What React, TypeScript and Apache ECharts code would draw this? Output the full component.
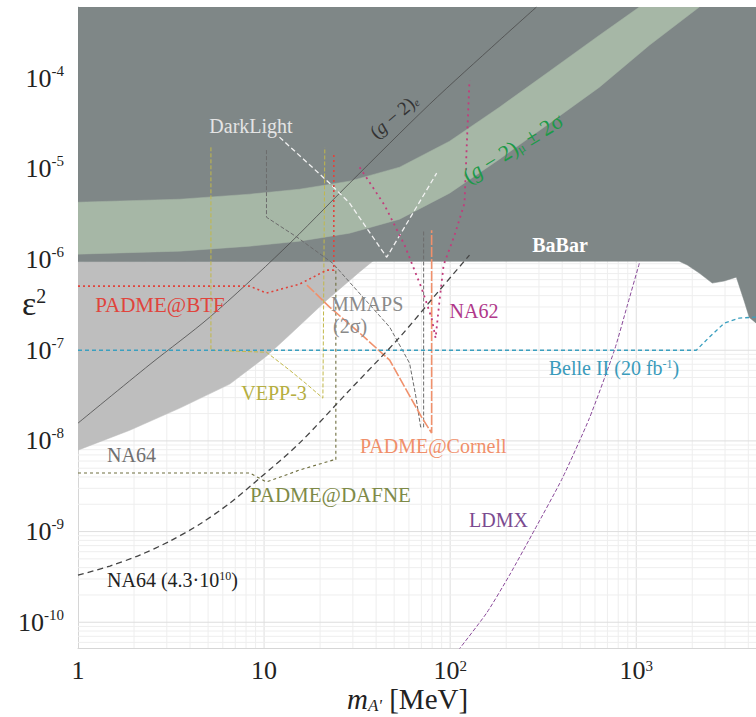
import React, { useEffect, useRef } from 'react';
import * as echarts from 'echarts';

const SERIF = '"Liberation Serif", "Times New Roman", Times, serif';

// Axis ranges
const X_MIN = 1;
const X_MAX = 4400;
const Y_MIN = 5.2e-11;
const Y_MAX = 6.1e-4;

// Tick labels
const xTickValues = [1, 10, 100, 1000];
const xTickLabels = ['{b|1}', '{b|10}', '{b|10}{s|2}', '{b|10}{s|3}'];
const yTickValues = [1e-10, 1e-9, 1e-8, 1e-7, 1e-6, 1e-5, 1e-4];
const yTickLabels = ['{b|10}{s|-10}', '{b|10}{s|-9}', '{b|10}{s|-8}', '{b|10}{s|-7}', '{b|10}{s|-6}', '{b|10}{s|-5}', '{b|10}{s|-4}'];

// BaBar (+ others) excluded region: lower boundary
const babarMass = [1, 1700, 1880, 2180, 2560, 2970, 3450, 3800, 4050, 4400];
const babarEps2 = [9.5e-7, 9.6e-7, 8.7e-7, 7.1e-7, 5.5e-7, 5.8e-7, 6.4e-7, 3.5e-7, 2.3e-7, 2.0e-7];

// NA64 excluded region: lower boundary
const na64ExclMass = [1, 1.9, 3.53, 6.54, 10.3, 13.7, 21.7, 32.6, 37.9, 45];
const na64ExclEps2 = [7.9e-9, 1.31e-8, 2.3e-8, 4.23e-8, 8.6e-8, 1.47e-7, 3.56e-7, 7.3e-7, 9.4e-7, 1.2e-6];

// (g-2)_mu +- 2 sigma band
const gm2MuUpperMass = [1, 3.53, 8.38, 15.5, 28.8, 53.5, 99.3, 184, 342, 634, 1039];
const gm2MuUpperEps2 = [4.29e-6, 4.63e-6, 5.26e-6, 5.97e-6, 7.32e-6, 1.044e-5, 2.02e-5, 4.79e-5, 1.195e-4, 2.98e-4, 6.1e-4];
const gm2MuLowerMass = [1, 3.53, 8.38, 15.5, 28.8, 53.5, 99.3, 184, 342, 634, 1176, 2182];
const gm2MuLowerEps2 = [1.147e-6, 1.238e-6, 1.405e-6, 1.595e-6, 1.954e-6, 2.79e-6, 5.4e-6, 1.28e-5, 3.19e-5, 7.96e-5, 2.31e-4, 6.1e-4];

// (g-2)_e line
const gm2eMass = [1, 2.44, 5.11, 12.6, 28.8, 77.5, 184, 291];
const gm2eEps2 = [1.57e-8, 7.0e-8, 2.32e-7, 1.27e-6, 6.95e-6, 5.16e-5, 2.62e-4, 6.1e-4];

// DarkLight
const darkLightMass = [12.1, 22.5, 28.8, 45.6, 84.6];
const darkLightEps2 = [2.24e-5, 6.95e-6, 4.19e-6, 1.06e-6, 8.97e-6];

// PADME@BTF
const btfMass = [1, 8.38, 10.3, 15.5, 21.7, 23.7, 23.7];
const btfEps2 = [5.09e-7, 5.09e-7, 4.27e-7, 5.36e-7, 7.64e-7, 7.64e-7, 1.49e-5];

// VEPP-3
const veppMass = [5.18, 5.18, 10.3, 13.7, 17.0, 20.7, 21.2];
const veppEps2 = [1.73e-5, 1.0e-7, 9.5e-8, 6.04e-8, 4.2e-8, 2.96e-8, 1.73e-5];

// PADME@DAFNE
const dafneMass = [1, 8.38, 10.3, 15.5, 23.4, 24.3, 24.3];
const dafneEps2 = [4.42e-9, 4.42e-9, 3.52e-9, 4.77e-9, 6.14e-9, 6.14e-9, 8.24e-7];

// MMAPS (2 sigma)
const mmapsMass = [10.3, 10.3, 15.0, 23.4, 28.8, 47.3, 60.5, 65.2, 69.4, 72.0, 72.0];
const mmapsEps2 = [1.61e-5, 2.93e-6, 1.77e-6, 9.1e-7, 5.63e-7, 1.8e-7, 7.2e-8, 3.2e-8, 1.42e-8, 1.42e-8, 2.11e-6];

// PADME@Cornell
const cornellMass = [17.0, 22.5, 32.6, 47.3, 70.2, 79.5, 79.5];
const cornellEps2 = [5.23e-7, 2.99e-7, 1.55e-7, 7.78e-8, 1.83e-8, 1.22e-8, 2.11e-6];

// NA62
const na62Mass = [32.6, 44.4, 56.9, 70.2, 79.5, 83.5, 87.7, 92.2, 105.6, 119.4, 122.5, 127];
const na62Eps2 = [1.04e-5, 3.98e-6, 1.44e-6, 4.84e-7, 2.26e-7, 1.36e-7, 3.56e-7, 8.7e-7, 1.86e-6, 4.19e-6, 1.61e-5, 9.5e-5];

// Belle II (20 fb^-1)
const belleMass = [1, 2102, 2467, 2970, 3575, 4400];
const belleEps2 = [1.0e-7, 1.0e-7, 1.39e-7, 1.99e-7, 2.26e-7, 2.32e-7];

// LDMX
const ldmxMass = [105.6, 156.8, 208.4, 283.8, 401, 560, 763, 896, 1039];
const ldmxEps2 = [4.35e-11, 1.26e-10, 3.31e-10, 1.04e-9, 3.89e-9, 1.78e-8, 1.0e-7, 3.14e-7, 9.1e-7];

// NA64 (4.3e10 EOT)
const na64ProjMass = [1, 1.485, 2.15, 3.12, 4.52, 6.54, 9.48, 15.5, 28.8, 53.5, 87.7, 127];
const na64ProjEps2 = [3.31e-10, 4.17e-10, 5.51e-10, 7.86e-10, 1.21e-9, 2.06e-9, 3.89e-9, 9.46e-9, 3.63e-8, 1.39e-7, 4.6e-7, 1.12e-6];

const zip = (xs: number[], ys: number[]) => xs.map((x, i) => [x, ys[i]]);

const isClose = (a: number, b: number) => Math.abs(Math.log10(a) - Math.log10(b)) < 1e-6;

const fmtFrom = (vals: number[], labels: string[]) => (v: number) => {
  const i = vals.findIndex((t) => isClose(t, v));
  return i >= 0 ? labels[i] : '';
};

function polygonSeries(name: string, pts: () => number[][], fill: string) {
  return {
    type: 'custom',
    name,
    coordinateSystem: 'cartesian2d',
    silent: true,
    clip: true,
    data: [[10, 1e-6]],
    renderItem: (_p: any, api: any) => ({
      type: 'polygon',
      shape: { points: pts().map((p) => api.coord(p)) },
      style: { fill, stroke: fill, lineWidth: 0.5 },
    }),
  };
}

function lineSeries(name: string, xs: number[], ys: number[], color: string, width: number, dash: any, smooth: any = false) {
  return {
    type: 'line',
    name,
    data: zip(xs, ys),
    showSymbol: false,
    symbol: 'none',
    smooth,
    silent: true,
    clip: true,
    lineStyle: { color, width, type: dash },
  };
}

function gridSeries() {
  return {
    type: 'custom',
    name: 'grid',
    coordinateSystem: 'cartesian2d',
    silent: true,
    clip: true,
    data: [[10, 1e-6]],
    renderItem: (_p: any, api: any) => {
      const children: any[] = [];
      for (let d = 0; d <= 3; d++) {
        for (let k = 1; k <= 9; k++) {
          const v = k * Math.pow(10, d);
          if (v <= X_MIN || v >= X_MAX) continue;
          const a = api.coord([v, Y_MIN]);
          const b = api.coord([v, Y_MAX]);
          children.push({
            type: 'line',
            shape: { x1: a[0], y1: a[1], x2: b[0], y2: b[1] },
            style: { stroke: k === 1 ? '#dedede' : '#eeeeee', lineWidth: 1 },
          });
        }
      }
      for (let d = -11; d <= -4; d++) {
        for (let k = 1; k <= 9; k++) {
          const v = k * Math.pow(10, d);
          if (v <= Y_MIN || v >= Y_MAX) continue;
          const a = api.coord([X_MIN, v]);
          const b = api.coord([X_MAX, v]);
          children.push({
            type: 'line',
            shape: { x1: a[0], y1: a[1], x2: b[0], y2: b[1] },
            style: { stroke: k === 1 ? '#dedede' : '#eeeeee', lineWidth: 1 },
          });
        }
      }
      return { type: 'group', children };
    },
  };
}

function txt(x: number, y: number, text: string, fill: string, size: number, opts: any = {}) {
  const align = opts.align || 'center';
  const weight = opts.weight || 'normal';
  const sub = Math.round(size * (opts.subRatio || 0.6));
  return {
    type: 'text',
    x,
    y,
    rotation: opts.rotation || 0,
    silent: true,
    z: 100,
    style: {
      text,
      fill,
      font: `${weight} ${size}px ${SERIF}`,
      fontSize: size,
      fontFamily: SERIF,
      fontWeight: weight,
      align,
      verticalAlign: 'middle',
      textAlign: align,
      textVerticalAlign: 'middle',
      rich: {
        n: { fontSize: size, fontFamily: SERIF, fontWeight: weight, fill },
        i: { fontSize: size, fontFamily: SERIF, fontStyle: 'italic', fill },
        s: { fontSize: sub, fontFamily: SERIF, fill, verticalAlign: 'top' },
        u: { fontSize: sub, fontFamily: SERIF, fill, verticalAlign: 'bottom' },
        ui: { fontSize: sub, fontFamily: SERIF, fontStyle: 'italic', fill, verticalAlign: 'bottom' },
        e: { fontSize: size, fontFamily: SERIF, fill },
      },
    },
  };
}

export default function App() {
  const ref = useRef<HTMLDivElement>(null);
  useEffect(() => {
    const chart = echarts.init(ref.current!, null, { renderer: 'svg' });
    const yRich = {
      b: { fontSize: 26, fontFamily: SERIF, color: '#222', lineHeight: 30 },
      s: { fontSize: 15, fontFamily: SERIF, color: '#222', verticalAlign: 'top' },
    };
    const xRich = {
      b: { fontSize: 26, fontFamily: SERIF, color: '#222', lineHeight: 24 },
      s: { fontSize: 15, fontFamily: SERIF, color: '#222', verticalAlign: 'top', lineHeight: 12 },
    };
    const option: any = {
      animation: false,
      backgroundColor: '#ffffff',
      grid: { left: 78, right: 0, top: 7, bottom: 69, containLabel: false },
      xAxis: {
        type: 'log',
        logBase: 10,
        min: X_MIN,
        max: X_MAX,
        axisLine: { show: true, lineStyle: { color: '#d6d6d6', width: 1 } },
        axisTick: { show: false },
        splitLine: { show: false },
        axisLabel: {
          formatter: fmtFrom(xTickValues, xTickLabels),
          margin: 10,
          rich: xRich,
          showMinLabel: true,
          showMaxLabel: false,
          hideOverlap: false,
        },
      },
      yAxis: {
        type: 'log',
        logBase: 10,
        min: Y_MIN,
        max: Y_MAX,
        axisLine: { show: true, lineStyle: { color: '#d6d6d6', width: 1 } },
        axisTick: { show: false },
        splitLine: { show: false },
        axisLabel: {
          formatter: fmtFrom(yTickValues, yTickLabels),
          margin: 14,
          rich: yRich,
          showMinLabel: false,
          showMaxLabel: false,
          hideOverlap: false,
        },
      },
      series: [
        gridSeries(),
        polygonSeries('NA64 excluded', () => [...zip(na64ExclMass, na64ExclEps2), [45, Y_MAX], [X_MIN, Y_MAX]], '#bebebe'),
        polygonSeries('BaBar excluded', () => [[X_MIN, Y_MAX], [X_MAX, Y_MAX], ...zip(babarMass, babarEps2).reverse()], '#7f8787'),
        polygonSeries('(g-2)mu band', () => [...zip(gm2MuUpperMass, gm2MuUpperEps2), ...zip(gm2MuLowerMass, gm2MuLowerEps2).reverse()], '#a6b7a6'),
        lineSeries('(g-2)e', gm2eMass, gm2eEps2, '#4a4a4a', 0.8, 'solid', 0.3),
        lineSeries('DarkLight', darkLightMass, darkLightEps2, '#f2f2f2', 1.3, [5, 3]),
        lineSeries('VEPP-3', veppMass, veppEps2, '#c2b84a', 1, [4, 2]),
        lineSeries('PADME@DAFNE', dafneMass, dafneEps2, '#6e6e3e', 1.1, [3, 3]),
        lineSeries('MMAPS', mmapsMass, mmapsEps2, '#6c6c6c', 1, [4, 2]),
        lineSeries('PADME@BTF', btfMass, btfEps2, '#e0443c', 1.6, [2, 3]),
        lineSeries('PADME@Cornell', cornellMass, cornellEps2, '#f0916c', 1.6, [10, 2]),
        lineSeries('NA62', na62Mass, na62Eps2, '#c23c7c', 1.8, [2, 4]),
        lineSeries('Belle II', belleMass, belleEps2, '#3a9fbf', 1.3, [4, 3]),
        lineSeries('LDMX', ldmxMass, ldmxEps2, '#8a4a9a', 1, [4, 2], 0.2),
        lineSeries('NA64 (4.3e10)', na64ProjMass, na64ProjEps2, '#444444', 1.3, [6, 4], 0.3),
      ],
      graphic: [
        txt(251, 126, 'DarkLight', '#e4e4e4', 20),
        txt(394, 116, '{n|(}{i|g}{n| − 2)}{ui|e}', '#333333', 19, { rotation: 0.7 }),
        txt(513, 148, '{n|(}{i|g}{n| − 2)}{u|μ}{n| ± 2σ}', '#1c9a48', 22, { rotation: 0.55 }),
        txt(560, 245, 'BaBar', '#ffffff', 20, { weight: 'bold' }),
        txt(160, 305, 'PADME@BTF', '#e0443c', 21),
        txt(331, 304, 'MMAPS', '#8a8a8a', 20, { align: 'left' }),
        txt(333, 326, '(2σ)', '#8a8a8a', 20, { align: 'left' }),
        txt(474, 311, 'NA62', '#b0388a', 20),
        txt(274, 393, 'VEPP-3', '#b5ae40', 20),
        txt(614, 368, '{n|Belle II (20 fb}{s|-1}{n|)}', '#3a9bbb', 20),
        txt(360, 446, 'PADME@Cornell', '#f08f6a', 20, { align: 'left' }),
        txt(107, 455, 'NA64', '#707070', 20, { align: 'left' }),
        txt(250, 495, 'PADME@DAFNE', '#7e8a48', 21, { align: 'left' }),
        txt(469, 520, 'LDMX', '#7a4a90', 20, { align: 'left' }),
        txt(107, 580, '{n|NA64 (4.3·10}{s|10}{n|)}', '#222222', 20, { align: 'left' }),
        txt(22, 303, '{e|ε}{s|2}', '#222222', 34, { align: 'left' }),
        txt(347, 699, '{i|m}{ui|A\'}{n| [MeV]}', '#222222', 29, { align: 'left' }),
      ],
    };
    chart.setOption(option);
    return () => chart.dispose();
  }, []);
  return (
    <div
      ref={ref}
      style={{ position: 'fixed', left: 0, top: 0, width: 756, height: 717, background: '#fff' }}
    />
  );
}
